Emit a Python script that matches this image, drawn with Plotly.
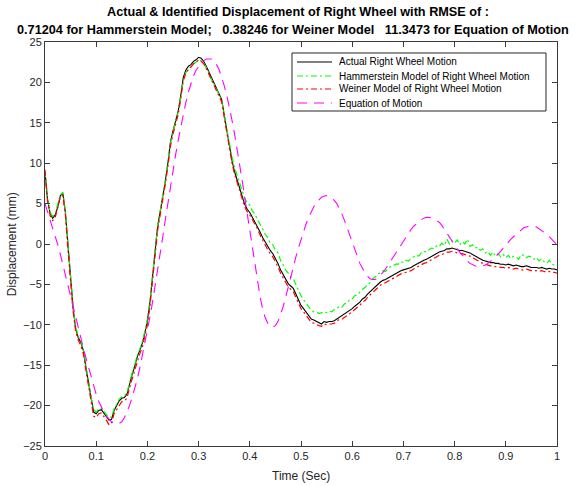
import numpy as np
import plotly.graph_objects as go

# Sample times (s), 5 ms spacing
time_s = np.round(np.linspace(0.0, 1.0, 201), 3)

# Measured displacement of the right wheel (mm)
actual = [
    8.8, 5.5, 3.8, 3.2, 3.6, 4.6, 6.0, 6.2, 3.8, -0.5,
    -4.5, -8.0, -10.5, -11.6, -12.2, -13.2, -15.3, -17.3, -19.2, -20.8,
    -21.0, -20.6, -20.5, -20.9, -21.3, -21.8, -21.7, -20.6, -20.0, -19.4,
    -19.1, -19.0, -18.6, -17.3, -16.2, -15.2, -14.0, -13.2, -12.3, -11.0,
    -9.5, -7.2, -4.3, -0.8, 2.2, 4.0, 5.8, 7.8, 10.0, 12.6,
    14.0, 15.2, 16.4, 18.3, 20.6, 21.5, 22.0, 22.2, 22.6, 22.8,
    23.1, 23.0, 22.6, 22.0, 21.3, 20.5, 19.9, 19.3, 18.6, 17.9,
    16.0, 14.0, 12.0, 10.4, 9.0, 7.9, 7.0, 5.9, 4.9, 4.3,
    3.9, 3.3, 2.7, 2.2, 1.5, 0.8, 0.2, -0.3, -0.8, -1.2,
    -1.8, -2.4, -3.2, -3.8, -4.4, -4.9, -5.2, -5.5, -6.2, -7.0,
    -7.6, -8.0, -8.4, -8.9, -9.3, -9.4, -9.6, -9.8, -9.9, -9.6,
    -9.7, -9.6, -9.6, -9.5, -9.3, -9.0, -8.9, -8.7, -8.5, -8.2,
    -8.0, -7.7, -7.5, -7.2, -6.8, -6.6, -6.2, -5.9, -5.5, -5.2,
    -4.9, -4.7, -4.5, -4.4, -4.2, -4.0, -3.8, -3.7, -3.5, -3.3,
    -3.2, -3.1, -3.0, -2.9, -2.7, -2.5, -2.4, -2.2, -2.0, -1.9,
    -1.7, -1.5, -1.3, -1.1, -1.0, -0.9, -0.8, -0.6, -0.6, -0.5,
    -0.6, -0.7, -0.8, -0.8, -0.9, -1.0, -1.1, -1.3, -1.5, -1.7,
    -1.9, -2.0, -2.1, -2.2, -2.3, -2.3, -2.4, -2.4, -2.5, -2.5,
    -2.6, -2.5, -2.6, -2.7, -2.6, -2.7, -2.8, -2.8, -2.7, -2.8,
    -2.9, -2.9, -2.9, -3.0, -2.9, -3.0, -3.1, -3.0, -3.1, -3.1,
    -3.2,
]

# Hammerstein model output (mm)
hammerstein = [
    9.0, 5.6, 3.9, 3.4, 3.8, 4.8, 6.1, 6.4, 4.0, -0.3,
    -4.3, -7.8, -10.3, -11.4, -12.1, -13.0, -15.1, -17.2, -19.0, -20.5,
    -20.8, -20.4, -20.3, -20.7, -21.1, -21.5, -21.4, -20.4, -19.8, -19.2,
    -18.9, -18.8, -18.4, -17.1, -16.0, -15.0, -13.8, -13.0, -12.1, -10.8,
    -9.3, -7.0, -4.1, -0.6, 2.3, 4.1, 5.9, 7.9, 10.1, 12.5,
    13.9, 15.1, 16.3, 18.2, 20.3, 21.2, 21.7, 21.9, 22.3, 22.5,
    22.8, 22.7, 22.4, 21.8, 21.2, 20.4, 19.8, 19.2, 18.5, 17.8,
    16.1, 14.2, 12.3, 10.8, 9.5, 8.4, 7.6, 6.6, 5.7, 5.1,
    4.8, 4.1, 3.7, 3.0, 2.5, 1.9, 1.2, 0.8, 0.1, -0.1,
    -0.8, -1.1, -2.0, -2.6, -3.2, -3.6, -4.1, -4.3, -5.0, -5.8,
    -6.4, -6.9, -7.3, -7.8, -8.2, -8.4, -8.4, -8.6, -8.5, -8.4,
    -8.5, -8.3, -8.4, -8.1, -8.0, -7.7, -7.8, -7.4, -7.3, -6.9,
    -6.8, -6.4, -6.3, -5.9, -5.6, -5.4, -5.0, -4.8, -4.3, -4.1,
    -3.7, -3.6, -3.3, -3.4, -3.0, -2.8, -2.7, -2.5, -2.5, -2.2,
    -2.3, -2.0, -2.1, -1.8, -1.6, -1.4, -1.5, -1.1, -0.9, -1.0,
    -0.7, -0.5, -0.6, -0.2, -0.3, 0.1, -0.2, 0.6, 0.0, 0.4,
    0.1, 0.5, -0.1, 0.3, 0.0, 0.6, -0.3, -0.1, -0.5, -0.4,
    -0.8, -0.6, -1.1, -0.9, -1.4, -1.0, -1.5, -1.2, -1.6, -1.3,
    -1.7, -1.4, -1.8, -1.5, -1.6, -1.9, -1.3, -1.4, -1.7, -1.5,
    -1.6, -1.9, -1.7, -2.1, -1.8, -2.2, -2.4, -2.0, -2.5, -2.6,
    -2.7,
]

# Weiner model output (mm)
weiner = [
    9.2, 5.3, 3.5, 2.9, 3.3, 4.4, 5.8, 6.0, 3.5, -0.9,
    -4.9, -8.4, -10.8, -11.9, -12.6, -13.6, -15.7, -17.7, -19.6, -21.3,
    -21.5, -21.0, -20.9, -21.3, -21.8, -22.4, -22.1, -21.0, -20.5, -19.9,
    -19.5, -19.4, -19.1, -17.8, -16.7, -15.7, -14.5, -13.6, -12.8, -11.5,
    -10.0, -7.7, -4.8, -1.3, 1.7, 3.6, 5.4, 7.4, 9.6, 12.1,
    13.6, 14.8, 16.0, 17.9, 20.2, 21.1, 21.6, 21.9, 22.3, 22.5,
    22.8, 22.6, 22.3, 21.7, 21.0, 20.2, 19.6, 19.0, 18.3, 17.6,
    15.7, 13.7, 11.7, 10.1, 8.7, 7.6, 6.7, 5.6, 4.6, 4.0,
    3.6, 3.0, 2.4, 1.9, 1.1, 0.5, -0.2, -0.7, -1.2, -1.6,
    -2.2, -2.8, -3.6, -4.2, -4.8, -5.3, -5.6, -5.9, -6.6, -7.4,
    -8.0, -8.4, -8.8, -9.3, -9.7, -9.8, -10.0, -10.1, -10.2, -9.9,
    -10.0, -9.9, -9.9, -9.8, -9.6, -9.3, -9.3, -9.1, -8.9, -8.6,
    -8.4, -8.1, -7.9, -7.6, -7.2, -7.0, -6.6, -6.3, -5.9, -5.6,
    -5.3, -5.1, -4.9, -4.8, -4.6, -4.4, -4.2, -4.1, -3.9, -3.7,
    -3.6, -3.5, -3.4, -3.3, -3.1, -2.9, -2.8, -2.6, -2.4, -2.3,
    -2.1, -1.9, -1.7, -1.5, -1.4, -1.3, -1.2, -1.0, -1.0, -0.9,
    -1.0, -1.1, -1.2, -1.2, -1.3, -1.4, -1.5, -1.7, -1.9, -2.1,
    -2.3, -2.4, -2.5, -2.6, -2.7, -2.7, -2.8, -2.8, -2.9, -2.9,
    -3.0, -2.9, -3.0, -3.1, -3.0, -3.1, -3.2, -3.2, -3.1, -3.2,
    -3.3, -3.3, -3.3, -3.4, -3.3, -3.4, -3.5, -3.4, -3.5, -3.5,
    -3.6,
]

# Equation-of-motion prediction (mm)
eq_motion = [
    5.0, 4.0, 3.0, 2.1, 1.0, -0.1, -1.3, -2.6, -4.0, -5.4,
    -6.7, -8.0, -9.3, -10.5, -11.6, -12.9, -14.1, -15.3, -16.5, -17.6,
    -18.6, -19.5, -20.2, -20.8, -21.3, -21.7, -22.0, -22.2, -22.3, -22.2,
    -22.0, -21.5, -20.8, -20.0, -19.0, -18.0, -16.8, -15.4, -13.9, -12.3,
    -10.7, -9.0, -7.2, -5.3, -3.3, -1.2, 0.9, 3.0, 5.1, 7.1,
    9.1, 11.0, 12.8, 14.5, 16.1, 17.5, 18.8, 19.9, 20.8, 21.5,
    22.0, 22.4, 22.7, 22.9, 22.9, 22.9, 22.6, 22.2, 21.6, 20.7,
    19.6, 18.4, 17.0, 15.4, 13.7, 11.9, 9.9, 7.9, 5.8, 3.7,
    1.6, -0.5, -2.6, -4.6, -6.5, -8.0, -9.1, -9.8, -10.2, -10.3,
    -10.1, -9.6, -8.8, -7.8, -6.6, -5.3, -4.0, -2.8, -1.6, -0.5,
    0.6, 1.6, 2.5, 3.3, 4.0, 4.6, 5.1, 5.5, 5.8, 5.9,
    6.0, 5.9, 5.7, 5.4, 5.0, 4.4, 3.7, 2.9, 2.0, 1.1,
    0.2, -0.7, -1.6, -2.4, -3.0, -3.6, -4.0, -4.3, -4.4, -4.4,
    -4.2, -3.9, -3.5, -3.1, -2.6, -2.1, -1.6, -1.1, -0.6, -0.1,
    0.4, 0.9, 1.4, 1.8, 2.2, 2.5, 2.8, 3.0, 3.2, 3.3,
    3.3, 3.2, 3.1, 2.9, 2.7, 2.3, 1.8, 1.3, 0.8, 0.3,
    -0.2, -0.6, -1.0, -1.4, -1.8, -2.1, -2.4, -2.6, -2.7, -2.8,
    -2.8, -2.7, -2.6, -2.4, -2.2, -1.9, -1.6, -1.3, -0.9, -0.5,
    -0.1, 0.3, 0.6, 0.9, 1.2, 1.5, 1.8, 2.0, 2.1, 2.2,
    2.2, 2.2, 2.1, 1.9, 1.7, 1.5, 1.2, 0.9, 0.6, 0.2,
    -0.1,
]

x_ticks = [0, 0.1, 0.2, 0.3, 0.4, 0.5, 0.6, 0.7, 0.8, 0.9, 1]
x_tick_text = ["0", "0.1", "0.2", "0.3", "0.4", "0.5", "0.6", "0.7", "0.8", "0.9", "1"]
y_ticks = [-25, -20, -15, -10, -5, 0, 5, 10, 15, 20, 25]

title_lines = [
    "Actual & Identified Displacement of Right Wheel with RMSE of :",
    "0.71204 for Hammerstein Model;   0.38246 for Weiner Model   11.3473 for Equation of Motion",
]
x_label = "Time (Sec)"
y_label = "Displacement (mm)"

FONT = "Liberation Sans, Arial, Helvetica, sans-serif"
AXIS_COLOR = "#3a3a3a"
LABEL_COLOR = "#262626"

series = [
    ("Actual Right Wheel Motion", actual, dict(color="black", width=1.1, dash="solid")),
    ("Hammerstein Model of Right Wheel Motion", hammerstein,
     dict(color="#00ff00", width=1.2, dash="6px,3px,2px,3px")),
    ("Weiner Model of Right Wheel Motion", weiner,
     dict(color="#ff0000", width=1.2, dash="6px,3px,2px,3px")),
    ("Equation of Motion", eq_motion, dict(color="#ff00ff", width=1.1, dash="10px,7px")),
]

fig = go.Figure()
for name, values, line in series:
    fig.add_trace(go.Scatter(x=time_s, y=values, mode="lines", name=name,
                             line=line, showlegend=False))

# Compact boxed legend in paper coordinates
shapes = [dict(type="rect", xref="paper", yref="paper",
               x0=0.4824, x1=0.9785, y0=0.8292, y1=0.9728,
               line=dict(color=LABEL_COLOR, width=1), fillcolor="white", layer="above")]
annotations = []
entry_y = [0.9505, 0.9158, 0.8837, 0.8490]
for (name, _, line), ey in zip(series, entry_y):
    shapes.append(dict(type="line", xref="paper", yref="paper",
                       x0=0.4922, x1=0.5605, y0=ey, y1=ey,
                       line=dict(color=line["color"], width=1, dash=line["dash"]),
                       layer="above"))
    annotations.append(dict(text=name, xref="paper", yref="paper",
                            x=0.5703, y=ey, xanchor="left", yanchor="middle",
                            showarrow=False,
                            font=dict(family=FONT, size=10, color="black")))

# Two-line bold title above the axes
for txt, tx, ty in zip(title_lines, [0.494, 0.484], [1.0743, 1.0297]):
    annotations.append(dict(text="<b>" + txt + "</b>", xref="paper", yref="paper",
                            x=tx, y=ty, xanchor="center", yanchor="middle",
                            showarrow=False,
                            font=dict(family=FONT, size=12.7, color="black")))

# Axis titles
annotations.append(dict(text=x_label, xref="paper", yref="paper",
                        x=0.500, y=-0.0743, xanchor="center", yanchor="middle",
                        showarrow=False, font=dict(family=FONT, size=12, color=LABEL_COLOR)))
annotations.append(dict(text=y_label, xref="paper", yref="paper",
                        x=-0.064, y=0.5, xanchor="center", yanchor="middle", textangle=-90,
                        showarrow=False, font=dict(family=FONT, size=12, color=LABEL_COLOR)))

axis_common = dict(
    showline=True, linecolor=AXIS_COLOR, linewidth=1, mirror="ticks",
    ticks="inside", ticklen=5, tickwidth=1, tickcolor=AXIS_COLOR,
    showgrid=False, zeroline=False, automargin=False,
    tickfont=dict(family=FONT, size=11, color=LABEL_COLOR),
)

fig.update_layout(
    width=576, height=486,
    margin=dict(l=45, r=19, t=42, b=40),
    paper_bgcolor="white", plot_bgcolor="white",
    font=dict(family=FONT, color=LABEL_COLOR),
    xaxis=dict(range=[0, 1], tickvals=x_ticks, ticktext=x_tick_text, **axis_common),
    yaxis=dict(range=[-25, 25], tickvals=y_ticks, **axis_common),
    shapes=shapes,
    annotations=annotations,
    showlegend=False,
)

fig.write_html("out.html")
